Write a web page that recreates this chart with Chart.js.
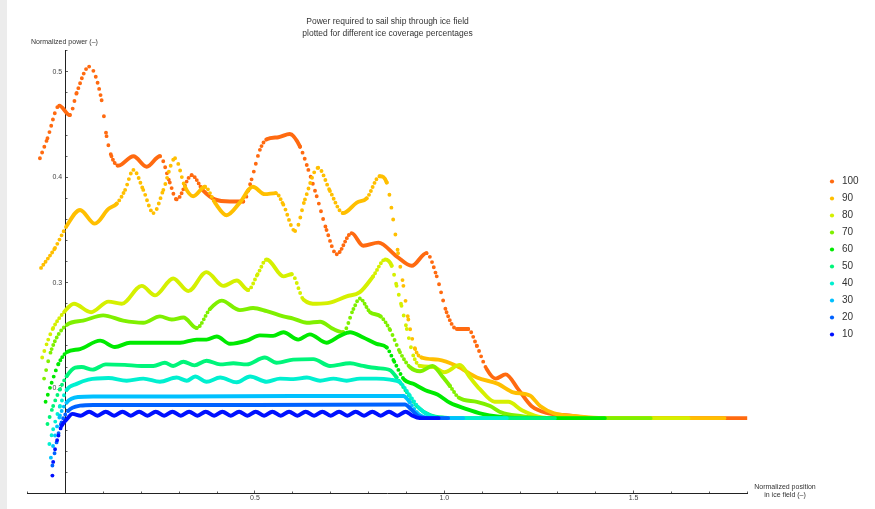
<!DOCTYPE html>
<html>
<head>
<meta charset="utf-8">
<script src="https://cdn.jsdelivr.net/npm/chart.js@4.4.1/dist/chart.umd.min.js"></script>
<style>
  html, body { margin: 0; padding: 0; }
  body { width: 875px; height: 509px; overflow: hidden;
         background: linear-gradient(to right, #ececec 0, #ececec 7px, #ffffff 7px); }
</style>
</head>
<body>
<canvas id="chart" width="875" height="509"></canvas>
<script>
// ice coverage (%) per curve, drawn 10 on top, listed 100 first in the legend
const coverage = [10, 20, 30, 40, 50, 60, 70, 80, 90, 100];
const colors = ["#0010ff", "#0062ff", "#00c0ff", "#00f0d0", "#00f57a",
                "#00ea00", "#7ff000", "#d5f000", "#ffbf00", "#ff6a10"];

// [normalized position, normalized power]
const s100 = [[-0.068,0.418],[-0.048,0.437],[-0.017,0.468],[0.011,0.459],[0.029,0.480],[0.062,0.505],
  [0.095,0.473],[0.108,0.439],[0.121,0.420],[0.139,0.411],[0.179,0.420],[0.214,0.410],[0.249,0.420],
  [0.275,0.395],[0.293,0.379],[0.333,0.402],[0.364,0.387],[0.394,0.379],[0.434,0.377],[0.469,0.377],
  [0.491,0.398],[0.513,0.426],[0.531,0.436],[0.562,0.438],[0.592,0.441],[0.619,0.429],[0.641,0.407],
  [0.663,0.382],[0.689,0.350],[0.716,0.327],[0.755,0.347],[0.786,0.335],[0.826,0.338],[0.874,0.325],
  [0.914,0.316],[0.953,0.328],[0.980,0.306],[1.006,0.272],[1.033,0.256],[1.063,0.256],[1.086,0.240],
  [1.112,0.218],[1.136,0.209],[1.162,0.213],[1.195,0.199],[1.230,0.183],[1.275,0.176],[1.330,0.174],
  [1.400,0.1715],[1.800,0.1715]];
const s90 = [[-0.065,0.314],[-0.028,0.333],[0.003,0.354],[0.038,0.369],[0.077,0.356],[0.113,0.370],
  [0.135,0.375],[0.157,0.388],[0.179,0.407],[0.205,0.388],[0.232,0.366],[0.258,0.388],[0.289,0.418],
  [0.315,0.391],[0.337,0.382],[0.368,0.391],[0.394,0.376],[0.425,0.364],[0.460,0.376],[0.494,0.391],
  [0.526,0.384],[0.555,0.385],[0.575,0.374],[0.606,0.349],[0.632,0.379],[0.667,0.409],[0.698,0.387],
  [0.733,0.366],[0.769,0.376],[0.795,0.380],[0.830,0.401],[0.848,0.395],[0.865,0.360],[0.878,0.328],
  [0.892,0.297],[0.905,0.265],[0.923,0.237],[0.940,0.229],[0.984,0.227],[1.033,0.221],[1.086,0.210],
  [1.142,0.204],[1.182,0.196],[1.226,0.193],[1.253,0.183],[1.290,0.176],[1.355,0.173],[1.420,0.1715],
  [1.740,0.1715]];
const s80 = [[-0.062,0.229],[-0.046,0.246],[-0.033,0.257],[-0.002,0.273],[0.022,0.280],[0.067,0.272],
  [0.113,0.282],[0.148,0.280],[0.201,0.297],[0.236,0.288],[0.284,0.304],[0.324,0.292],[0.372,0.310],
  [0.416,0.297],[0.452,0.302],[0.482,0.293],[0.507,0.308],[0.531,0.322],[0.575,0.306],[0.597,0.308],
  [0.628,0.284],[0.663,0.280],[0.698,0.281],[0.742,0.287],[0.777,0.291],[0.812,0.306],[0.844,0.322],
  [0.861,0.316],[0.874,0.297],[0.887,0.278],[0.901,0.256],[0.918,0.231],[0.936,0.221],[0.971,0.220],
  [1.000,0.215],[1.041,0.222],[1.068,0.210],[1.094,0.199],[1.133,0.187],[1.169,0.187],[1.205,0.179],
  [1.248,0.173],[1.300,0.1715],[1.645,0.1715]];
const s70 = [[-0.057,0.209],[-0.037,0.237],[0.003,0.260],[0.046,0.264],[0.099,0.269],[0.152,0.264],
  [0.205,0.262],[0.249,0.268],[0.280,0.265],[0.311,0.267],[0.346,0.257],[0.381,0.275],[0.412,0.283],
  [0.460,0.274],[0.495,0.276],[0.531,0.273],[0.575,0.268],[0.601,0.266],[0.637,0.262],[0.672,0.263],
  [0.707,0.256],[0.733,0.253],[0.760,0.275],[0.777,0.285],[0.804,0.272],[0.832,0.268],[0.857,0.255],
  [0.883,0.234],[0.909,0.220],[0.936,0.216],[0.969,0.221],[0.995,0.211],[1.015,0.202],[1.038,0.191],
  [1.086,0.187],[1.121,0.183],[1.150,0.177],[1.200,0.1735],[1.260,0.1715],[1.545,0.1715]];
const s60 = [[-0.053,0.187],[-0.037,0.205],[-0.019,0.223],[0.003,0.234],[0.038,0.237],[0.091,0.245],
  [0.130,0.239],[0.170,0.243],[0.214,0.243],[0.249,0.243],[0.302,0.243],[0.346,0.246],[0.372,0.246],
  [0.399,0.249],[0.434,0.242],[0.478,0.245],[0.513,0.250],[0.548,0.2495],[0.575,0.253],[0.614,0.246],
  [0.645,0.251],[0.689,0.243],[0.724,0.2495],[0.751,0.253],[0.786,0.248],[0.821,0.242],[0.848,0.2385],
  [0.868,0.225],[0.894,0.208],[0.918,0.204],[0.950,0.198],[0.982,0.194],[1.015,0.186],[1.059,0.180],
  [1.100,0.1755],[1.140,0.173],[1.200,0.1715],[1.424,0.1715]];
const s50 = [[-0.048,0.166],[-0.033,0.183],[-0.015,0.199],[0.003,0.2115],[0.025,0.2195],[0.042,0.220],
  [0.071,0.2175],[0.106,0.2225],[0.156,0.222],[0.200,0.221],[0.232,0.221],[0.262,0.224],[0.284,0.221],
  [0.311,0.225],[0.340,0.2215],[0.372,0.226],[0.408,0.2225],[0.443,0.2235],[0.478,0.2225],[0.526,0.229],
  [0.557,0.224],[0.601,0.227],[0.654,0.2275],[0.698,0.221],[0.751,0.2235],[0.786,0.221],[0.821,0.219],
  [0.857,0.217],[0.874,0.210],[0.901,0.196],[0.927,0.183],[0.962,0.1745],[1.000,0.172],[1.050,0.1715],
  [1.292,0.1715]];
const s40 = [[-0.043,0.147],[-0.033,0.161],[-0.015,0.183],[0.003,0.1985],[0.029,0.204],[0.060,0.208],
  [0.113,0.2095],[0.161,0.207],[0.205,0.209],[0.249,0.206],[0.293,0.210],[0.320,0.207],[0.342,0.211],
  [0.372,0.206],[0.408,0.210],[0.452,0.2055],[0.487,0.211],[0.531,0.206],[0.566,0.209],[0.601,0.2085],
  [0.637,0.210],[0.672,0.207],[0.707,0.209],[0.742,0.207],[0.777,0.209],[0.821,0.209],[0.857,0.208],
  [0.883,0.2055],[0.909,0.193],[0.936,0.180],[0.965,0.1735],[1.000,0.1715],[1.165,0.1715]];
const s30 = [[-0.039,0.134],[-0.028,0.155],[-0.015,0.174],[0.003,0.1865],[0.033,0.1915],[0.073,0.192],
  [0.300,0.192],[0.600,0.1925],[0.892,0.1925],[0.909,0.1865],[0.927,0.177],[0.953,0.172],[1.000,0.1715],
  [1.050,0.1715]];
const s20 = [[-0.035,0.1265],[-0.024,0.1485],[-0.011,0.1675],[0.007,0.1785],[0.038,0.1833],[0.073,0.184],
  [0.500,0.184],[0.896,0.1845],[0.912,0.180],[0.933,0.173],[0.960,0.1715],[1.010,0.1715]];
const s10 = [[-0.035,0.117],[-0.033,0.130],[-0.028,0.142],[-0.019,0.155],[-0.011,0.164],[0.003,0.1705],
  [0.018,0.1755],[0.040,0.1738],[0.062,0.1776],[0.084,0.1738],[0.106,0.1776],[0.128,0.1738],[0.150,0.1776],
  [0.172,0.1738],[0.194,0.1776],[0.216,0.1738],[0.238,0.1776],[0.260,0.1738],[0.282,0.1776],[0.304,0.1738],
  [0.326,0.1776],[0.348,0.1738],[0.370,0.1776],[0.392,0.1738],[0.414,0.1776],[0.436,0.1738],[0.458,0.1776],
  [0.480,0.1738],[0.502,0.1776],[0.524,0.1738],[0.546,0.1776],[0.568,0.1738],[0.590,0.1776],[0.612,0.1738],
  [0.634,0.1776],[0.656,0.1738],[0.678,0.1776],[0.700,0.1738],[0.722,0.1776],[0.744,0.1738],[0.766,0.1776],
  [0.788,0.1738],[0.810,0.1776],[0.832,0.1738],[0.854,0.1776],[0.876,0.1738],[0.898,0.1776],[0.915,0.174],
  [0.935,0.1715],[0.985,0.1715]];

const series = [s10, s20, s30, s40, s50, s60, s70, s80, s90, s100];

// steep parts show up as separate dots, flat parts merge into a line
const dotStep = 2.2;
function steepDash(ctx) {
  const dx = Math.abs(ctx.p1.x - ctx.p0.x);
  const dy = Math.abs(ctx.p1.y - ctx.p0.y);
  const step = dx > 0 ? dotStep * Math.hypot(dx, dy) / dx : 99;
  return step > 3.6 ? [0, step] : undefined;
}

const isMult = (v, n) => Math.abs(v * n - Math.round(v * n)) < 1e-6;

const extras = {
  id: "extras",
  afterLayout(chart) {
    const lg = chart.legend;
    const colH = lg.columnSizes ? lg.columnSizes[0].height : 170;
    const shift = 176.5 - (lg.top + 7 + lg.bottom - colH) / 2;
    lg.left = 820;
    lg.right = 820 + lg.width;
    lg.top += shift;
    lg.bottom += shift;
  },
  afterDraw(chart) {
    const c = chart.ctx;
    c.save();
    c.fillStyle = "#333";
    c.font = '7px "Liberation Sans", Arial, sans-serif';
    c.textBaseline = "middle";
    c.textAlign = "left";
    c.fillText("Normalized power (–)", 31, 42);
    c.textAlign = "center";
    c.fillText("Normalized position", 785, 487);
    c.fillText("in ice field (–)", 785, 495.5);
    c.restore();
  }
};

Chart.defaults.font.family = '"Liberation Sans", Arial, Helvetica, sans-serif';

new Chart(document.getElementById("chart"), {
  type: "scatter",
  data: {
    datasets: series.map((s, i) => ({
      label: String(coverage[i]),
      data: s.map(p => ({ x: p[0], y: p[1] })),
      showLine: true,
      borderColor: colors[i],
      backgroundColor: colors[i],
      pointBackgroundColor: colors[i],
      pointBorderWidth: 0,
      pointRadius: 0,
      pointHoverRadius: 0,
      pointStyle: "circle",
      borderWidth: 3.9,
      borderCapStyle: "round",
      borderJoinStyle: "round",
      cubicInterpolationMode: "monotone",
      segment: { borderDash: steepDash }
    }))
  },
  options: {
    responsive: false,
    animation: false,
    layout: { padding: { left: 27.8, right: 127.8, top: 0, bottom: 0 }, autoPadding: false },
    plugins: {
      title: {
        display: true,
        fullSize: false,
        text: ["Power required to sail ship through ice field",
               "plotted for different ice coverage percentages"],
        color: "#333",
        font: { size: 8.5, weight: "normal", lineHeight: 1.41 },
        padding: { top: 16, bottom: 10.8 }
      },
      legend: {
        position: "chartArea",
        reverse: true,
        labels: {
          usePointStyle: true,
          pointStyle: "circle",
          boxWidth: 10,
          boxHeight: 3,
          padding: 7,
          color: "#333",
          font: { size: 10 }
        }
      },
      tooltip: { enabled: false }
    },
    scales: {
      x: {
        type: "linear",
        min: -0.1,
        max: 1.8,
        z: 1,
        afterFit: s => { s.height = 15.5; },
        border: { display: true, color: "#222", width: 1 },
        grid: {
          drawOnChartArea: false,
          tickLength: -3,
          tickColor: "#333",
          tickWidth: 0.8,
          tickBorderDash: ctx => isMult(ctx.tick.value, 2) ? [] : [2.5, 10]
        },
        ticks: {
          stepSize: 0.1,
          autoSkip: false,
          maxRotation: 0,
          padding: 3,
          color: "#444",
          font: { size: 7 },
          callback: v => (v > 0 && isMult(v, 2)) ? v.toFixed(1) : ""
        }
      },
      y: {
        type: "linear",
        min: 0.1,
        max: 0.52,
        position: { x: 0 },
        z: 1,
        afterFit: s => { s.width = 0; },
        border: { display: true, color: "#222", width: 1 },
        grid: {
          drawOnChartArea: false,
          tickLength: -3,
          tickColor: "#333",
          tickWidth: 0.8,
          tickBorderDash: ctx => isMult(ctx.tick.value, 10) ? [] : [2.5, 10]
        },
        ticks: {
          stepSize: 0.02,
          autoSkip: false,
          color: "#444",
          font: { size: 7 },
          // labels sit right against an axis placed at x = 0, keep a small gap
          callback: v => (v > 0.15 && isMult(v, 10)) ? v.toFixed(1) + "\u2002" : ""
        }
      }
    }
  },
  plugins: [extras]
});
</script>
</body>
</html>
